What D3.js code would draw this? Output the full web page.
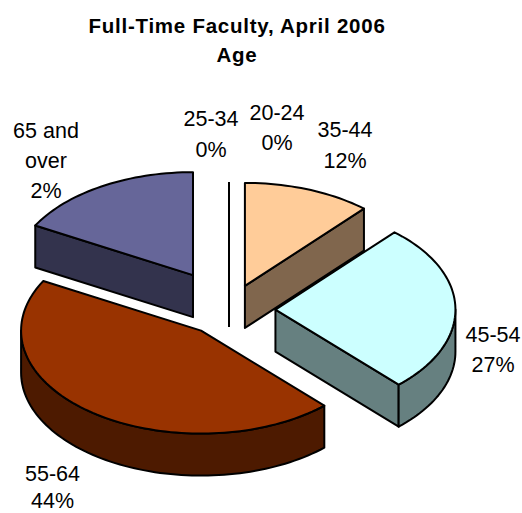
<!DOCTYPE html>
<html><head><meta charset="utf-8">
<script src="https://cdnjs.cloudflare.com/ajax/libs/d3/7.8.5/d3.min.js"></script>
<style>html,body{margin:0;padding:0;background:#fff}svg{display:block}text{font-family:"Liberation Sans",Arial,sans-serif;fill:#000}</style>
</head><body><svg id="c" width="522" height="513"></svg>
<script>
const categories = ["20-24","35-44","45-54","55-64","65 and over","25-34"];
const drawnShares = [0,11.5,26.5,45,17,0];
const printedPercents = ["0%","12%","27%","44%","2%","0%"];
const titleLines = ["Full-Time Faculty, April 2006","Age"];

const W=522,H=513,CX=229,CY=310,RX=180,RY=103,DEPTH=42;
const fills={"20-24":"#000","35-44":"#FFCC99","45-54":"#CCFFFF","55-64":"#993300","65 and over":"#666699","25-34":"#000"};
const sides={"20-24":"#000","35-44":"#80664D","45-54":"#668080","55-64":"#4D1A00","65 and over":"#33334D","25-34":"#000"};
const explode={"20-24":.243,"35-44":.25,"45-54":.258,"55-64":.253,"65 and over":.393,"25-34":.243};
const labelPos={"20-24":[277,120,150],"25-34":[211,126,157],"35-44":[345,137,168],"45-54":[493,342,372],"55-64":[52.5,481,508]};

const svg=d3.select("#c");
const xS=d3.scaleLinear().domain([-1,1]).range([CX-RX,CX+RX]);
const yS=d3.scaleLinear().domain([-1,1]).range([CY-RY,CY+RY]);
const arcs=d3.pie().sort(null).value(d=>d.v).startAngle(0).endAngle(2*Math.PI)(
  categories.map((c,i)=>({c,v:drawnShares[i]})));
const line=d3.line();
const ring=(a0,a1,o,dz)=>{const n=Math.max(2,Math.ceil((a1-a0)/0.03));
  return d3.range(n+1).map(k=>pt(a0+(a1-a0)*k/n,1,o,dz));};
function pt(a,r,o,dz){return [xS(o[0]+r*Math.sin(a)),yS(o[1]-r*Math.cos(a))+dz];}
const order=["35-44","65 and over","20-24","25-34","45-54","55-64"];
const PI=Math.PI;
order.forEach(name=>{
  const d=arcs.find(x=>x.data.c===name),a0=d.startAngle,a1=d.endAngle,mid=(a0+a1)/2;
  const e=explode[name],o=[e*Math.sin(mid),-e*Math.cos(mid)];
  const g=svg.append("g").attr("stroke","#000").attr("stroke-width",2).attr("stroke-linejoin","round");
  const apex=pt(0,0,o,0),apexB=pt(0,0,o,DEPTH);
  if(a1-a0<1e-6){g.append("path").attr("d",line([pt(a0,1,o,0),apexB]));return;}
  const quad=a=>{const p=pt(a,1,o,0),q=pt(a,1,o,DEPTH);
    g.append("path").attr("d",line([apex,p,q,apexB])+"Z").attr("fill",sides[name]);};
  if(a0>PI&&a0<2*PI)quad(a0);
  if(a1>0&&a1<PI)quad(a1);
  const w0=Math.max(a0,PI/2),w1=Math.min(a1,3*PI/2);
  if(w1>w0){g.append("path").attr("fill",sides[name])
    .attr("d",line(ring(w0,w1,o,0).concat(ring(w0,w1,o,DEPTH).reverse()))+"Z");}
  g.append("path").attr("fill",fills[name]).attr("d",line([apex].concat(ring(a0,a1,o,0)))+"Z");
});
const tt=svg.append("g").attr("text-anchor","middle").attr("font-size",20.5).attr("font-weight","bold").attr("letter-spacing",0.75);
titleLines.forEach((t,i)=>tt.append("text").attr("x",237).attr("y",[33,62][i]).text(t));
const lg=svg.append("g").attr("text-anchor","middle").attr("font-size",21.5);
categories.forEach((c,i)=>{
  if(c==="65 and over"){
    [["65 and",138],["over",168],[printedPercents[i],198]].forEach(([t,y])=>
      lg.append("text").attr("x",46).attr("y",y).text(t));
    return;}
  const [x,y1,y2]=labelPos[c];
  lg.append("text").attr("x",x).attr("y",y1).text(c);
  lg.append("text").attr("x",x).attr("y",y2).text(printedPercents[i]);
});
</script></body></html>
